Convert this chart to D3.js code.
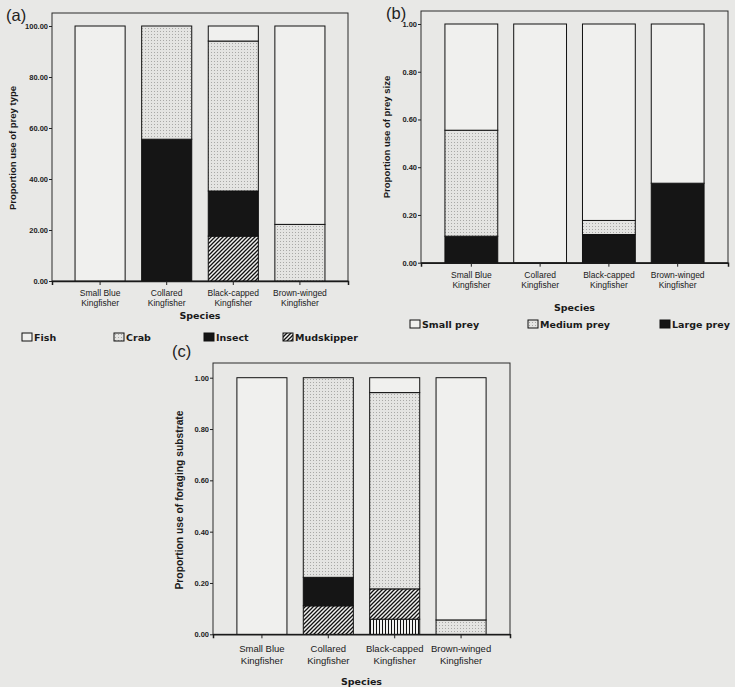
<!DOCTYPE html>
<html><head><meta charset="utf-8">
<script src="https://cdn.jsdelivr.net/npm/d3@7"></script>
<style>body{margin:0;background:#e8e8e6;} svg{display:block}</style>
</head><body><svg id="c" width="735" height="687"></svg>
<script>
// ---------- data ----------
const species = ["Small Blue Kingfisher","Collared Kingfisher","Black-capped Kingfisher","Brown-winged Kingfisher"];
const speciesLines = [["Small Blue","Kingfisher"],["Collared","Kingfisher"],["Black-capped","Kingfisher"],["Brown-winged","Kingfisher"]];

// (a) prey type, percent (stack order bottom -> top)
const preyTypes = ["Mudskipper","Insect","Crab","Fish"];
const mudskipper = [0, 0, 17.6, 0];
const insect     = [0, 55.6, 17.7, 0];
const crab       = [0, 44.4, 58.8, 22.2];
const fish       = [100, 0, 5.9, 77.8];
const legendA    = ["Fish","Crab","Insect","Mudskipper"];
const ticksA     = [0, 20, 40, 60, 80, 100];

// (b) prey size, proportion (bottom -> top)
const preySizes = ["Large prey","Medium prey","Small prey"];
const largePrey  = [0.111, 0, 0.118, 0.333];
const mediumPrey = [0.444, 0, 0.059, 0];
const smallPrey  = [0.445, 1, 0.823, 0.667];
const legendB    = ["Small prey","Medium prey","Large prey"];
const ticksB     = [0, 0.2, 0.4, 0.6, 0.8, 1.0];

// (c) foraging substrate, proportion (bottom -> top)
const substrates = ["Substrate 1","Substrate 2","Substrate 3","Substrate 4","Substrate 5"];
const sub1 = [0, 0, 0.059, 0];
const sub2 = [0, 0.111, 0.118, 0];
const sub3 = [0, 0.111, 0, 0];
const sub4 = [0, 0.778, 0.765, 0.056];
const sub5 = [1, 0, 0.058, 0.944];
const ticksC = [0, 0.2, 0.4, 0.6, 0.8, 1.0];

// ---------- styles ----------
const svg = d3.select("#c");
const defs = svg.append("defs");
const WHITE = "#f0f0ee", BLACK = "#151515";

const pd = defs.append("pattern").attr("id","dots").attr("patternUnits","userSpaceOnUse").attr("width",3).attr("height",3);
pd.append("rect").attr("width",3).attr("height",3).attr("fill","#e4e4e2");
pd.append("rect").attr("x",1).attr("y",1).attr("width",1).attr("height",1).attr("fill","#a8a8a6");
const ph = defs.append("pattern").attr("id","diag").attr("patternUnits","userSpaceOnUse").attr("width",4).attr("height",4);
ph.append("rect").attr("width",4).attr("height",4).attr("fill","#f2f2f0");
ph.append("path").attr("d","M-1,1 l2,-2 M0,4 l4,-4 M3,5 l2,-2").attr("stroke","#111").attr("stroke-width",1.3);
const pv = defs.append("pattern").attr("id","vert").attr("patternUnits","userSpaceOnUse").attr("width",3).attr("height",4);
pv.append("rect").attr("width",3).attr("height",4).attr("fill","#f2f2f0");
pv.append("rect").attr("x",1).attr("width",1).attr("height",4).attr("fill","#111");

const fillA = {"Fish":WHITE, "Crab":"url(#dots)", "Insect":BLACK, "Mudskipper":"url(#diag)"};
const fillB = {"Small prey":WHITE, "Medium prey":"url(#dots)", "Large prey":BLACK};
const fillC = {"Substrate 1":"url(#vert)","Substrate 2":"url(#diag)","Substrate 3":BLACK,"Substrate 4":"url(#dots)","Substrate 5":WHITE};

const valuesA = {"Fish":fish,"Crab":crab,"Insect":insect,"Mudskipper":mudskipper};
const valuesB = {"Small prey":smallPrey,"Medium prey":mediumPrey,"Large prey":largePrey};
const valuesC = {"Substrate 1":sub1,"Substrate 2":sub2,"Substrate 3":sub3,"Substrate 4":sub4,"Substrate 5":sub5};

function panel(o){
  const g = svg.append("g");
  const x = d3.scaleBand().domain(species).range([o.x0,o.x1]).paddingInner(o.pi).paddingOuter(o.po);
  const y = d3.scaleLinear().domain([0,o.max]).range([o.yBottom,o.yTop]);
  g.append("rect").attr("x",o.x0).attr("y",o.frameTop).attr("width",o.x1-o.x0).attr("height",o.yBottom-o.frameTop)
    .attr("fill","none").attr("stroke","#2a2a2a").attr("stroke-width",1);
  const rows = species.map((s,i)=>{const r={species:s}; o.keys.forEach(k=>r[k]=o.values[k][i]); return r;});
  const stack = d3.stack().keys(o.keys)(rows);
  stack.forEach(layer=>{
    g.selectAll(null).data(layer.filter(d=>d[1]-d[0]>0)).enter().append("rect")
      .attr("x",d=>x(d.data.species)).attr("width",x.bandwidth())
      .attr("y",d=>y(d[1])).attr("height",d=>y(d[0])-y(d[1]))
      .attr("fill",o.fills[layer.key]).attr("stroke","#111").attr("stroke-width",1);
  });
  const ya = g.append("g").attr("transform",`translate(${o.x0},0)`)
    .call(d3.axisLeft(y).tickValues(o.ticks).tickFormat(d3.format(".2f")).tickSize(3).tickPadding(1));
  ya.select(".domain").remove();
  ya.selectAll("text").attr("font-family","Liberation Sans, Arial").attr("font-size",o.tickFont).attr("font-weight","bold").attr("fill","#222");
  ya.selectAll("line").attr("stroke","#222");
  const xa = g.append("g").attr("transform",`translate(0,${o.yBottom})`)
    .call(d3.axisBottom(x).tickSize(4).tickFormat(""));
  xa.select(".domain").attr("stroke","#1a1a1a").attr("stroke-width",1.5);
  xa.selectAll("line").attr("stroke","#222");
  xa.selectAll(".tick").each(function(d,i){
    const t = d3.select(this).append("text").attr("text-anchor","middle")
      .attr("font-family","Liberation Sans, Arial").attr("font-size",o.xFont).attr("fill","#1a1a1a");
    speciesLines[i].forEach((ln,j)=>t.append("tspan").attr("x",0).attr("y",o.xLab1 + j*o.xLabGap).text(ln));
  });
  g.append("text").attr("x",(o.x0+o.x1)/2).attr("y",o.speciesY).attr("text-anchor","middle")
    .attr("font-family","DejaVu Sans").attr("font-weight","bold").attr("font-size",9.5).attr("fill","#1a1a1a").text("Species");
  g.append("text").attr("transform",`translate(${o.yTitleX},${o.yTitleY}) rotate(-90)`).attr("text-anchor","middle")
    .attr("font-family","Liberation Sans, Arial").attr("font-weight","bold").attr("font-size",o.yTitleFont).attr("fill","#1a1a1a").text(o.yTitle);
  g.append("text").attr("x",o.labX).attr("y",o.labY).attr("font-family","Liberation Sans, Arial").attr("font-size",16.5).attr("fill","#222").text(o.label);
  if(o.legend){
    o.legend.forEach((k,i)=>{
      const lx = o.legX[i];
      g.append("rect").attr("x",lx).attr("y",o.legY-8).attr("width",10).attr("height",8).attr("fill",o.fills[k]).attr("stroke","#111").attr("stroke-width",1);
      g.append("text").attr("x",lx+12).attr("y",o.legY).attr("font-family","DejaVu Sans").attr("font-weight","bold").attr("font-size",9.5).attr("fill","#1a1a1a").text(k);
    });
  }
}

panel({x0:52,x1:348,pi:0.248,po:0.346,max:100,yBottom:281,yTop:26,frameTop:13,keys:preyTypes,values:valuesA,fills:fillA,
  ticks:ticksA,tickFont:7.5,xFont:8.5,xLab1:15,xLabGap:10,speciesY:319,yTitle:"Proportion use of prey type",yTitleX:16,yTitleY:148,yTitleFont:9.5,
  label:"(a)",labX:6,labY:21,legend:legendA,legX:[22,114,204,283],legY:341});

panel({x0:421,x1:728,pi:0.232,po:0.348,max:1,yBottom:262.7,yTop:24,frameTop:11,keys:preySizes,values:valuesB,fills:fillB,
  ticks:ticksB,tickFont:7.5,xFont:8.5,xLab1:15,xLabGap:10,speciesY:311,yTitle:"Proportion use of prey size",yTitleX:390,yTitleY:137,yTitleFont:9.5,
  label:"(b)",labX:386,labY:19,legend:legendB,legX:[410,528,660],legY:328});

panel({x0:213,x1:510,pi:0.246,po:0.36,max:1,yBottom:634.3,yTop:377.7,frameTop:363,keys:substrates,values:valuesC,fills:fillC,
  ticks:ticksC,tickFont:7.5,xFont:9.5,xLab1:18,xLabGap:12,speciesY:685,yTitle:"Proportion use of foraging substrate",yTitleX:183,yTitleY:500,yTitleFont:10.3,
  label:"(c)",labX:172,labY:357,legend:null});
</script>
</body></html>
